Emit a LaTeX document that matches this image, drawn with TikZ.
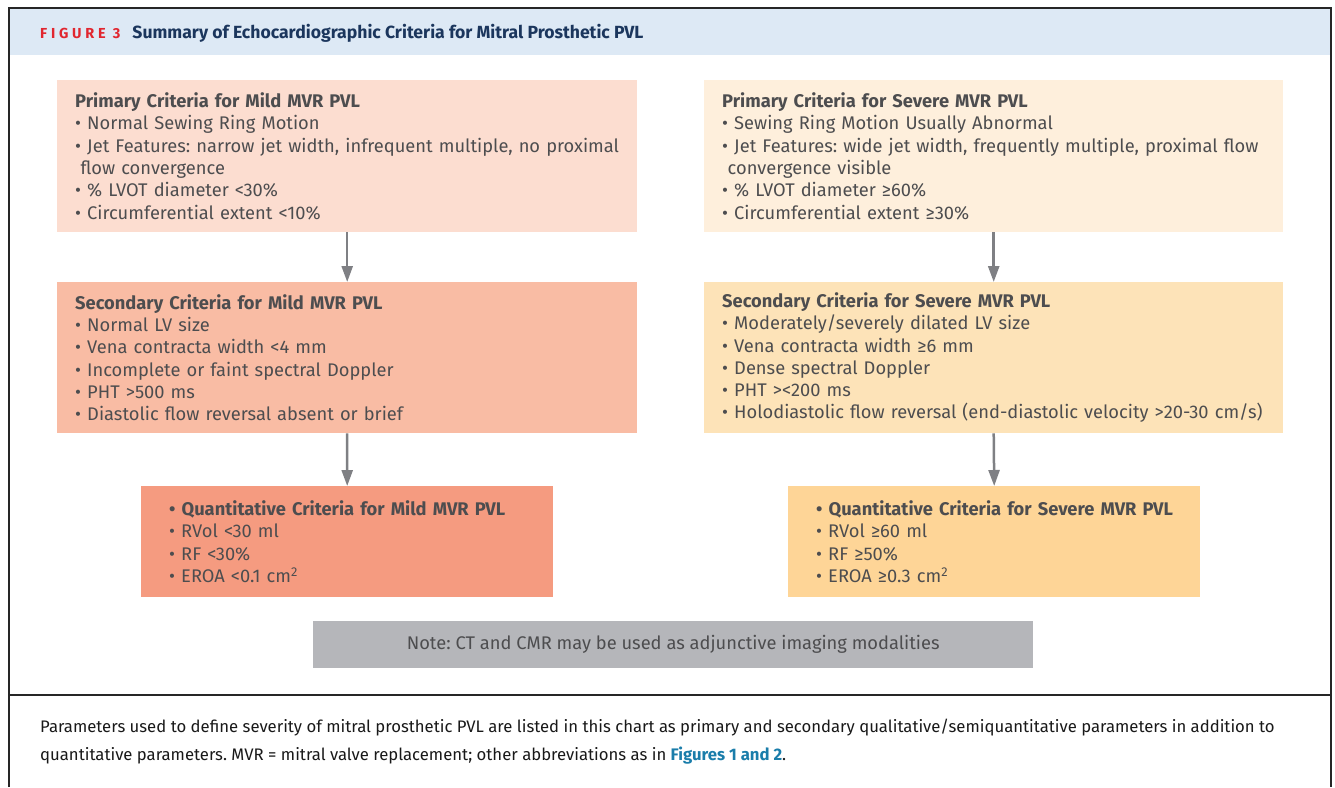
\documentclass[tikz,border=0pt]{standalone}
\usepackage{fontspec}
\setmainfont{Fira Sans}
\usetikzlibrary{arrows.meta}

\definecolor{hdrband}{HTML}{DDE9F5}
\definecolor{figred}{HTML}{E1262F}
\definecolor{navy}{HTML}{1B365D}
\definecolor{txt}{HTML}{4D4D4F}
\definecolor{mildA}{HTML}{FCDDD0}
\definecolor{mildB}{HTML}{F9BCA4}
\definecolor{mildC}{HTML}{F59B80}
\definecolor{sevA}{HTML}{FEEFDC}
\definecolor{sevB}{HTML}{FDE3B8}
\definecolor{sevC}{HTML}{FED597}
\definecolor{notegray}{HTML}{B5B6BA}
\definecolor{arrowgray}{HTML}{7F8084}
\definecolor{linkblue}{HTML}{1A7DAA}

\newcommand{\bl}{\textbullet\ }
\frenchspacing

\begin{document}
\begin{tikzpicture}[x=1bp,y=-1bp,
  frame/.style={line width=2bp,draw=black!85},
  critbox/.style={rectangle,anchor=north west,align=left,inner xsep=18bp,inner ysep=0pt,
    text=txt,font=\fontsize{18.3bp}{22.3bp}\selectfont},
  captext/.style={anchor=base west,inner sep=0pt,text=black!90,font=\fontsize{16.7bp}{20bp}\selectfont},
  flowarrow/.style={draw=arrowgray,line width=2.5bp,-{Triangle[width=11bp,length=16bp]}}]
\useasboundingbox (0,0) rectangle (1335,787);
\fill[white] (0,0) rectangle (1335,787);

% header band and outer frame
\fill[hdrband] (9,8) rectangle (1331,55);
\draw[frame] (9,787) -- (9,8) -- (1331,8) -- (1331,787);
\draw[frame] (9,695) -- (1331,695);

\node[anchor=base west,inner sep=0pt] (title) at (40,38.5)
  {{\fontsize{14.5bp}{16bp}\selectfont\bfseries\color{figred}\addfontfeatures{LetterSpace=26}FIGURE 3}\hspace{12bp}{\fontsize{17.6bp}{19bp}\selectfont\bfseries\color{navy}Summary of Echocardiographic Criteria for Mitral Prosthetic PVL}};

% mild column
\node[critbox,fill=mildA,minimum width=580bp,minimum height=152bp,text width=544bp] (p1) at (57,80)
  {\textbf{Primary Criteria for Mild MVR PVL}\\
   \bl Normal Sewing Ring Motion\\
   \bl Jet Features: narrow jet width, infrequent multiple, no proximal\\
   \hspace*{0.3em}flow convergence\\
   \bl \% LVOT diameter <30\%\\
   \bl Circumferential extent <10\%};
\node[critbox,fill=mildB,minimum width=580bp,minimum height=151bp,text width=544bp] (s1) at (57,282)
  {\textbf{Secondary Criteria for Mild MVR PVL}\\
   \bl Normal LV size\\
   \bl Vena contracta width <4 mm\\
   \bl Incomplete or faint spectral Doppler\\
   \bl PHT >500 ms\\
   \bl Diastolic flow reversal absent or brief};
\node[critbox,fill=mildC,minimum width=412bp,minimum height=111bp,text width=356bp,inner xsep=28bp] (q1) at (141,486)
  {\mbox{\textbf{\bl Quantitative Criteria for Mild MVR PVL}}\\
   \bl RVol <30 ml\\
   \bl RF <30\%\\
   \bl EROA <0.1 cm\textsuperscript{2}};

% severe column
\node[critbox,fill=sevA,minimum width=579bp,minimum height=152bp,text width=543bp] (p2) at (704,80)
  {\textbf{Primary Criteria for Severe MVR PVL}\\
   \bl Sewing Ring Motion Usually Abnormal\\
   \bl Jet Features: wide jet width, frequently multiple, proximal flow\\
   \hspace*{0.3em}convergence visible\\
   \bl \% LVOT diameter ≥60\%\\
   \bl Circumferential extent ≥30\%};
\node[critbox,fill=sevB,minimum width=579bp,minimum height=151bp,text width=543bp] (s2) at (704,282)
  {\textbf{Secondary Criteria for Severe MVR PVL}\\
   \bl Moderately/severely dilated LV size\\
   \bl Vena contracta width ≥6 mm\\
   \bl Dense spectral Doppler\\
   \bl PHT ><200 ms\\
   \bl Holodiastolic flow reversal (end-diastolic velocity >20-30 cm/s)};
\node[critbox,fill=sevC,minimum width=412bp,minimum height=111bp,text width=356bp,inner xsep=28bp] (q2) at (788,486)
  {\mbox{\textbf{\bl Quantitative Criteria for Severe MVR PVL}}\\
   \bl RVol ≥60 ml\\
   \bl RF ≥50\%\\
   \bl EROA ≥0.3 cm\textsuperscript{2}};

% connectors
\draw[flowarrow] (p1.south) -- (s1.north);
\draw[flowarrow] (s1.south) -- (q1.north);
\draw[flowarrow] (p2.south) -- (s2.north);
\draw[flowarrow] (s2.south) -- (q2.north);

% note
\node[rectangle,anchor=north west,fill=notegray,minimum width=720bp,minimum height=47bp,inner sep=0pt,
  text=txt,font=\fontsize{18.3bp}{21bp}\selectfont] (note) at (313,621)
  {Note: CT and CMR may be used as adjunctive imaging modalities};

% caption
\node[captext] (cap1) at (40,732)
  {Parameters used to define severity of mitral prosthetic PVL are listed in this chart as primary and secondary qualitative/semiquantitative parameters in addition to};
\node[captext] (cap2) at (40,760)
  {quantitative parameters. MVR = mitral valve replacement; other abbreviations as in {\bfseries\color{linkblue}Figures 1 and 2}.};
\end{tikzpicture}
\end{document}
